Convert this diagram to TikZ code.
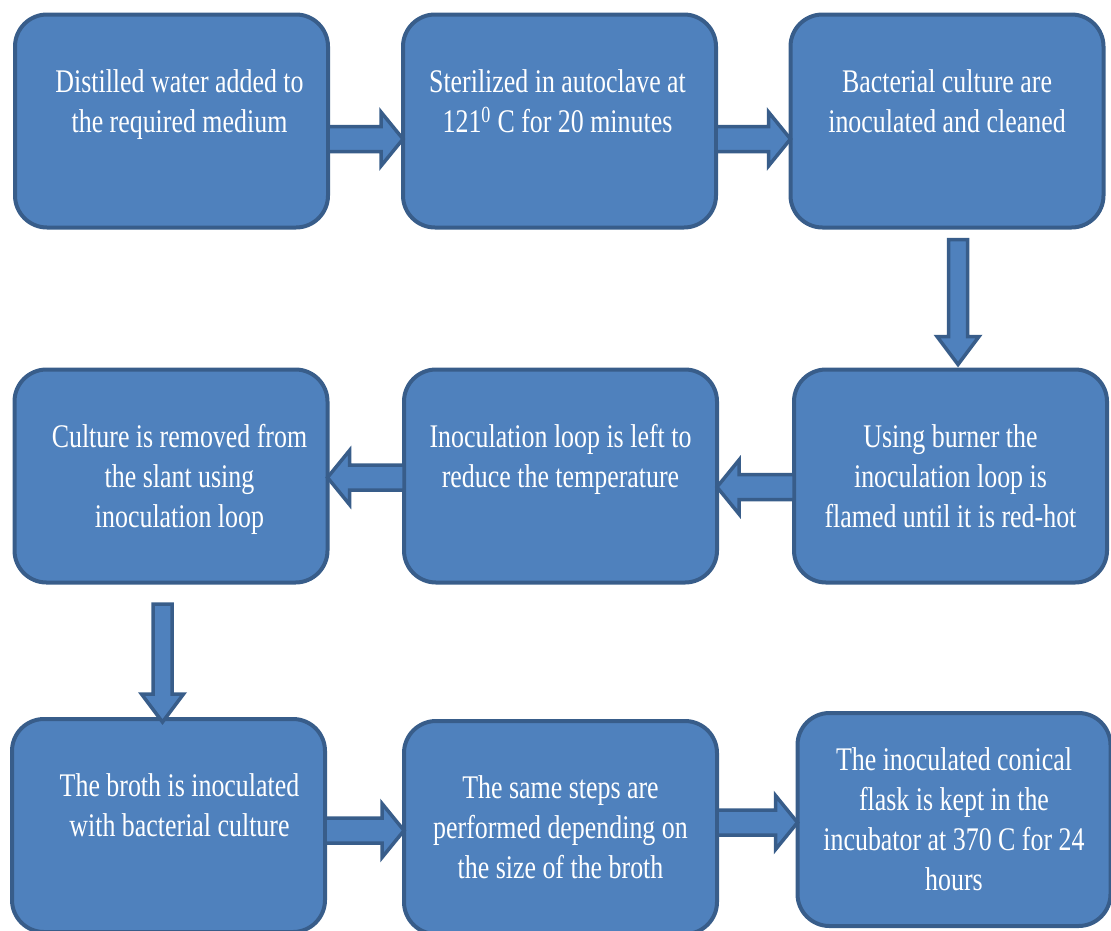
\documentclass[tikz,border=0pt]{standalone}
\usepackage{fontspec}
\setmainfont[FakeStretch=0.785]{Liberation Serif}
\usetikzlibrary{calc}
\definecolor{boxfill}{HTML}{4F81BD}
\definecolor{boxline}{HTML}{385D8A}
\tikzset{
  stepbox/.style={draw=boxline, fill=boxfill, line width=4pt, rounded corners=32pt,
    minimum width=313pt, minimum height=213pt, outer sep=0pt, inner sep=0pt,
    text=white, font=\fontsize{33}{40}\selectfont},
  fatarrow/.style n args={3}{draw=boxline, fill=boxfill, line width=3.5pt,
    to path={($(\tikztostart)!#1!90:(\tikztotarget)$)
      -- ($(\tikztotarget)!#3!(\tikztostart)!#1!90:(\tikztotarget)$)
      -- ($(\tikztotarget)!#3!(\tikztostart)!#2!90:(\tikztotarget)$)
      -- (\tikztotarget)
      -- ($(\tikztotarget)!#3!(\tikztostart)!#2!-90:(\tikztotarget)$)
      -- ($(\tikztotarget)!#3!(\tikztostart)!#1!-90:(\tikztotarget)$)
      -- ($(\tikztostart)!#1!-90:(\tikztotarget)$) -- cycle}},
  harrow/.style={fatarrow={12.5pt}{27pt}{22pt}},
  varrow/.style={fatarrow={9.5pt}{21pt}{28pt}}
}
\begin{document}
\begin{tikzpicture}[x=1pt,y=-1pt]
  \useasboundingbox (0,0) rectangle (1111,930);
  \clip (0,0) rectangle (1111,930);
  \foreach \n/\x/\y/\sh/\txt in {
      b1/171.5/121/16/{Distilled water added to\\the required medium\\\mbox{}},
      b2/559.5/121/-4/{Sterilized in autoclave at\\121\textsuperscript{0} C for 20 minutes\\\mbox{}},
      b3/947/121/0/{Bacterial culture are\\inoculated and cleaned\\\mbox{}},
      b4/171/476/17/{Culture is removed from\\the slant using\\inoculation loop},
      b5/560.5/476/0/{Inoculation loop is left to\\reduce the temperature\\\mbox{}},
      b6/950.5/476/0/{Using burner the\\inoculation loop is\\flamed until it is red-hot},
      b7/168.5/825.5/22/{The broth is inoculated\\with bacterial culture\\\mbox{}},
      b8/560.5/827.5/0/{The same steps are\\performed depending on\\the size of the broth},
      b9/954/819.5/0/{The inoculated conical\\flask is kept in the\\incubator at 370 C for 24\\hours}}
    \node[stepbox] (\n) at (\x,\y)
      {\hspace*{\sh pt}\raisebox{-3pt}[\height][\depth]{\begin{tabular}{@{}c@{}}\txt\end{tabular}}};
  % arrows between the steps
  \draw[harrow] ([yshift=-18pt]b1.east) to ([yshift=-18pt]b2.west);
  \draw[harrow] ([yshift=-18pt]b2.east) to ([yshift=-18pt]b3.west);
  \draw[varrow] ([xshift=11pt,yshift=-12pt]b3.south) to ([xshift=7.5pt,yshift=5pt]b6.north);
  \draw[harrow] ([yshift=-11pt]b6.west) to ([yshift=-11pt]b5.east);
  \draw[harrow] ([yshift=-1.5pt]b5.west) to ([yshift=-1.5pt]b4.east);
  \draw[varrow] ([xshift=-8.5pt,yshift=-21.5pt]b4.south) to ([xshift=-6pt,yshift=-3pt]b7.north);
  \draw[harrow] ([yshift=-5pt]b7.east) to ([yshift=-3pt]b8.west);
  \draw[harrow] ([yshift=5pt]b8.east) to ([yshift=-3pt]b9.west);
\end{tikzpicture}
\end{document}
